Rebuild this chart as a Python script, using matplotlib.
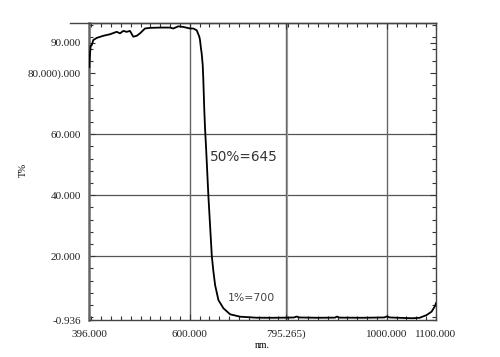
import matplotlib
matplotlib.use("Agg")
import matplotlib.pyplot as plt
from matplotlib.ticker import MultipleLocator, FixedLocator
from matplotlib.lines import Line2D

# transmission curve
wavelength = [396, 397, 398.8, 400.9, 404.1, 411.0, 424.4, 438.0, 451.6, 458.3, 465.0,
              471.9, 478.6, 485.3, 492.3, 498.9, 509.1, 519.3, 539.6, 559.9, 566.6,
              576.7, 586.9, 600.5, 607.2, 614.1, 619.4, 620.8, 622.8, 624.2, 626.3,
              627.5, 629.5, 631.0, 633.0, 637.9, 644.8, 648.0, 651.5, 658.2, 668.4,
              682.0, 702.3, 736.0, 769.0, 800.0, 812.0, 817.0, 822.0, 860.0, 895.0,
              899.0, 903.0, 950.0, 995.0, 1000.5, 1006.0, 1040.0, 1053.0, 1067.0,
              1081.0, 1091.0, 1098.0, 1100.0]
transmission = [82.0, 85.5, 89.1, 89.2, 90.9, 91.6, 92.3, 92.8, 93.6, 93.1, 93.9,
                93.6, 93.9, 92.0, 92.3, 93.1, 94.7, 94.9, 95.0, 95.0, 94.7,
                95.4, 95.2, 94.7, 94.7, 94.1, 92.0, 90.9, 88.1, 86.5, 82.7,
                78.0, 68.0, 62.0, 56.0, 39.5, 20.0, 15.0, 10.5, 5.6, 2.9,
                0.93, 0.15, -0.18, -0.2, -0.15, -0.1, 0.2, -0.1, -0.2, -0.15,
                0.2, -0.15, -0.2, -0.1, 0.25, -0.1, -0.3, -0.35, -0.2,
                0.7, 1.8, 3.65, 4.6]

x_ticks = [396, 600, 795.265, 1000, 1100]
x_labels = ["396.000", "600.000", "795.265)", "1000.000", "1100.000"]
y_ticks = [-0.936, 20, 40, 60, 80, 90]
y_labels = ["-0.936", "20.000", "40.000", "60.000", "80.000).000", "90.000"]
h_grid = [20, 40, 60]
v_grid = [600, 795.265, 1000]

fig = plt.figure(figsize=(5.0, 3.57), dpi=100)
ax = fig.add_axes([0.1786, 0.1036, 0.6934, 0.832])

for y in h_grid:
    ax.axhline(y, color="#555555", lw=0.9, zorder=1)
for x in v_grid:
    ax.axvline(x, color="#666666", lw=1.0, zorder=1)
ax.axvline(795.265 + 2.5, color="#999999", lw=0.8, zorder=1)

ax.plot(wavelength, transmission, color="black", lw=1.3, zorder=3)

ax.set_xlim(396, 1100)
ax.set_ylim(-0.936, 96.5)
ax.xaxis.set_major_locator(FixedLocator(x_ticks))
ax.set_xticklabels(x_labels)
ax.yaxis.set_major_locator(FixedLocator(y_ticks))
ax.set_yticklabels(y_labels)
ax.xaxis.set_minor_locator(MultipleLocator(20))
ax.yaxis.set_minor_locator(MultipleLocator(4))

for lab in ax.get_xticklabels() + ax.get_yticklabels():
    lab.set_fontfamily("Liberation Serif")
    lab.set_fontsize(8)
    lab.set_color("#222222")

ax.tick_params(axis="both", which="major", direction="in", length=4, width=0.8,
               color="#333333", top=True, right=True)
ax.tick_params(axis="x", which="major", pad=7)
ax.tick_params(axis="y", which="major", pad=6)
ax.tick_params(axis="both", which="minor", direction="in", length=3, width=0.8,
               color="#333333", top=True, right=True)

for side, sp in ax.spines.items():
    sp.set_color("#444444")
    sp.set_linewidth(1.0)
ax.spines["left"].set_linewidth(1.8)
ax.spines["left"].set_color("#666666")

ax.set_xlabel("nm.", fontfamily="Liberation Serif", fontsize=7)
ax.xaxis.set_label_coords(0.498, -0.07)
ax.set_ylabel("T%", fontfamily="Liberation Serif", fontsize=7)
ax.yaxis.set_label_coords(-0.177, 0.505)

ax.text(641, 52.5, "50%=645", fontsize=9.8, color="#333333", va="center", ha="left")
ax.text(678, 6.3, "1%=700", fontsize=7.8, color="#444444", va="center", ha="left")

# top border runs a little past the left spine in the scan
fig.add_artist(Line2D([0.14, 0.872], [0.9356, 0.9356], color="#444444", lw=1.0,
                      transform=fig.transFigure))

fig.savefig("out.png", dpi=100, facecolor="white")
